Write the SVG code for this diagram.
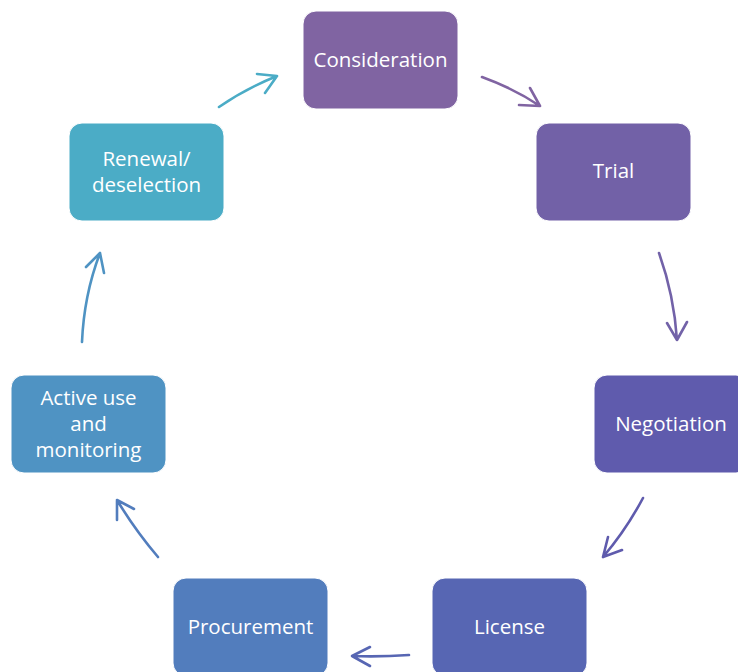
<svg xmlns="http://www.w3.org/2000/svg" width="738" height="672" viewBox="0 0 738 672">
<style>
.box{stroke:#ffffff;stroke-width:1}
.lbl{font-family:"Open Sans","Noto Sans",sans-serif;font-size:20.5px;fill:#ffffff;text-anchor:middle}
.arr{fill:none;stroke-width:2.6;stroke-linecap:round;stroke-linejoin:round}
</style>
<rect width="738" height="672" fill="#ffffff"/>
<g id="consideration"><rect class="box" x="303" y="11" width="155" height="98" rx="13" fill="#8064A2"/><text class="lbl" x="380.5" y="67">Consideration</text></g>
<g id="trial"><rect class="box" x="536" y="123" width="155" height="98" rx="13" fill="#7261A7"/><text class="lbl" x="613.5" y="178">Trial</text></g>
<g id="negotiation"><rect class="box" x="594" y="375" width="155" height="98" rx="13" fill="#5F5BAD"/><text class="lbl" x="671" y="431">Negotiation</text></g>
<g id="license"><rect class="box" x="432" y="578" width="155" height="98" rx="13" fill="#5766B3"/><text class="lbl" x="509.5" y="634">License</text></g>
<g id="procurement"><rect class="box" x="173" y="578" width="155" height="98" rx="13" fill="#527DBD"/><text class="lbl" x="250.5" y="634">Procurement</text></g>
<g id="active"><rect class="box" x="11" y="375" width="155" height="98" rx="13" fill="#4F93C3"/><text class="lbl" x="88.5" y="405">Active use</text><text class="lbl" x="88.5" y="431">and</text><text class="lbl" x="88.5" y="457">monitoring</text></g>
<g id="renewal"><rect class="box" x="69" y="123" width="155" height="98" rx="13" fill="#4BACC6"/><text class="lbl" x="146.5" y="166">Renewal/</text><text class="lbl" x="146.5" y="192">deselection</text></g>
<g id="connectors">
<path class="arr" stroke="#4BACC6" d="M219,107 Q245,89 277,76 M257,74 L277,76 L265,93"/>
<path class="arr" stroke="#8064A2" d="M482,77 Q515,89 540,106 M519,105 L540,106 L530,88"/>
<path class="arr" stroke="#7262A8" d="M659,253 Q674,295 677,340 M667,323 L677,340 L687,322"/>
<path class="arr" stroke="#5F5BAD" d="M643,498 Q626,530 603,557 M622,550 L603,557 L608,537"/>
<path class="arr" stroke="#5766B3" d="M409,655 Q380,657 352,656 M370,647 L352,656 L370,666"/>
<path class="arr" stroke="#527DBD" d="M158,557 Q135,530 117,500 M117,520 L117,500 L134,509"/>
<path class="arr" stroke="#4F93C3" d="M82,342 Q84,295 100,253 M86,267 L100,253 L104,273"/>
</g>
</svg>
